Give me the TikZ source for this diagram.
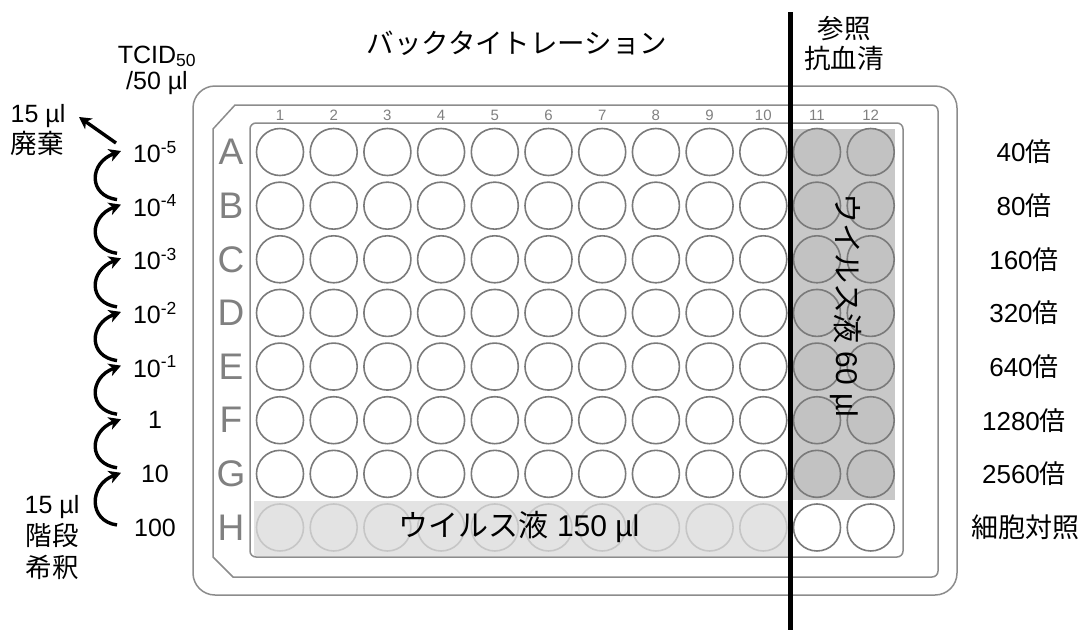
\documentclass[tikz,border=0pt]{standalone}
\usepackage{fontspec}
\setmainfont{Liberation Sans}
\newfontfamily\jp{Noto Sans CJK JP}
\usetikzlibrary{arrows.meta}
\definecolor{platec}{HTML}{8C8C8C}
\definecolor{wellc}{HTML}{7A7A7A}
\definecolor{labc}{HTML}{808080}
\definecolor{darkreg}{HTML}{C8C8C8}
\definecolor{darkwell}{HTML}{C2C2C2}
\definecolor{lightreg}{HTML}{E3E3E3}
\definecolor{lightwell}{HTML}{C6C6C6}
\begin{document}
\begin{tikzpicture}[x=1pt,y=-1pt,
  platestroke/.style={draw=platec, line width=1.5pt},
  well/.style={circle, draw=wellc, line width=1.6pt, minimum size=47pt, inner sep=0pt},
  darkw/.style={well, fill=darkwell},
  lightw/.style={well, draw=lightwell},
  rowlab/.style={text=labc, font=\fontsize{37}{40}\selectfont, inner sep=0pt},
  collab/.style={text=labc, font=\fontsize{15}{17}\selectfont, inner sep=0pt},
  sidelab/.style={font=\fontsize{25}{29}\selectfont, inner sep=0pt},
  jplab/.style={font=\jp\fontsize{26.5}{30}\selectfont, inner sep=0pt},
  bigjp/.style={font=\fontsize{30}{34}\selectfont, inner sep=0pt},
  curvearrow/.style={line width=3.4pt, -{Stealth[length=12pt,width=13pt,inset=3.5pt]}}
]
\useasboundingbox (0,0) rectangle (1081,630);
\fill[white] (0,0) rectangle (1081,630);

% plate outlines
\draw[platestroke, rounded corners=22pt] (193,86) rectangle (957,595);
\draw[platestroke] (235,105) -- (932,105) arc[start angle=-90, end angle=0, radius=6] -- (938,571)
  arc[start angle=0, end angle=90, radius=6] -- (233,577) -- (213,557) -- (213,129) -- cycle;
\draw[platestroke, rounded corners=6pt] (250,123) rectangle (903,557);

% shaded regions
\fill[darkreg] (791,129) rectangle (895,500);
\fill[lightreg] (254,501) rectangle (791,556);

% wells
\foreach \r [count=\i from 0] in {A,B,C,D,E,F,G,H}{
  \pgfmathsetmacro{\yy}{152+\i*53.64}
  \foreach \c in {1,...,12}{
    \pgfmathsetmacro{\xx}{280+(\c-1)*53.7}
    \ifnum\c>10
      \ifnum\i<7
        \node[darkw] (w-\r-\c) at (\xx,\yy) {};
      \else
        \node[well] (w-\r-\c) at (\xx,\yy) {};
      \fi
    \else
      \ifnum\i<7
        \node[well] (w-\r-\c) at (\xx,\yy) {};
      \else
        \node[lightw] (w-\r-\c) at (\xx,\yy) {};
      \fi
    \fi
  }
  \node[rowlab] (row-\r) at (231,\yy) {\r};
}
\foreach \c in {1,...,12}{
  \pgfmathsetmacro{\xx}{280+(\c-1)*53.7}
  \node[collab] (col-\c) at (\xx,115) {\c};
}

% separator line
\coordinate (sepT) at (790,12);
\coordinate (sepB) at (790,630);
\draw[line width=5pt] (sepT) -- (sepB);

% in-plate texts
\node[bigjp] (v150) at (519,527) {{\jp ウイルス液} 150 µl};
\node[bigjp, rotate=-90] (v60) at (846,305) {{\jp ウイルス液} 60 µl};

% headings
\node[font=\jp\fontsize{27.5}{31}\selectfont, inner sep=0pt] (title) at (517,43) {バックタイトレーション};
\node[jplab, align=center] (ref) at (844,43) {参照\\[0pt]抗血清};
\node[sidelab, align=center] (tcid) at (157,70) {TCID\textsubscript{50}\\[-3pt]/50 µl};

% left dilution values
\node[sidelab] (d1) at (155,152) {10\textsuperscript{-5}};
\node[sidelab] (d2) at (155,205.6) {10\textsuperscript{-4}};
\node[sidelab] (d3) at (155,259.3) {10\textsuperscript{-3}};
\node[sidelab] (d4) at (155,312.9) {10\textsuperscript{-2}};
\node[sidelab] (d5) at (155,366.6) {10\textsuperscript{-1}};
\node[sidelab] (d6) at (155,420.2) {1};
\node[sidelab] (d7) at (155,473.8) {10};
\node[sidelab] (d8) at (155,527.5) {100};

% right antiserum dilutions
\node[sidelab, font=\fontsize{26}{30}\selectfont] (r1) at (1024,152) {40{\jp 倍}};
\node[sidelab, font=\fontsize{26}{30}\selectfont] (r2) at (1024,205.6) {80{\jp 倍}};
\node[sidelab, font=\fontsize{26}{30}\selectfont] (r3) at (1024,259.3) {160{\jp 倍}};
\node[sidelab, font=\fontsize{26}{30}\selectfont] (r4) at (1024,312.9) {320{\jp 倍}};
\node[sidelab, font=\fontsize{26}{30}\selectfont] (r5) at (1024,366.6) {640{\jp 倍}};
\node[sidelab, font=\fontsize{26}{30}\selectfont] (r6) at (1024,420.2) {1280{\jp 倍}};
\node[sidelab, font=\fontsize{26}{30}\selectfont] (r7) at (1024,473.8) {2560{\jp 倍}};
\node[jplab, font=\jp\fontsize{27}{30}\selectfont] (r8) at (1025,527.5) {細胞対照};

% left notes
\node[sidelab] (disc1) at (38,116) {15 µl};
\node[jplab] (disc2) at (37,143) {廃棄};
\node[sidelab] (ser1) at (52,507) {15 µl};
\node[jplab] (ser2) at (52,535) {階段};
\node[jplab] (ser3) at (52,567) {希釈};

% arrows
\foreach \i/\yy in {1/152,2/205.6,3/259.3,4/312.9,5/366.6,6/420.2,7/473.8,8/527.5}{
  \coordinate (h\i) at (121,\yy-1);
  \coordinate (t\i) at (117,\yy-6);
}
\coordinate (t8) at (117,525);
\foreach \i/\j in {2/1,3/2,4/3,5/4,6/5,7/6,8/7}{
  \draw[curvearrow] (t\i) .. controls +(-29,-4) and +(-32,12) .. (h\j);
}
\coordinate (discA) at (116,143);
\coordinate (discB) at (79,117);
\draw[curvearrow] (discA) -- (discB);
\end{tikzpicture}
\end{document}
